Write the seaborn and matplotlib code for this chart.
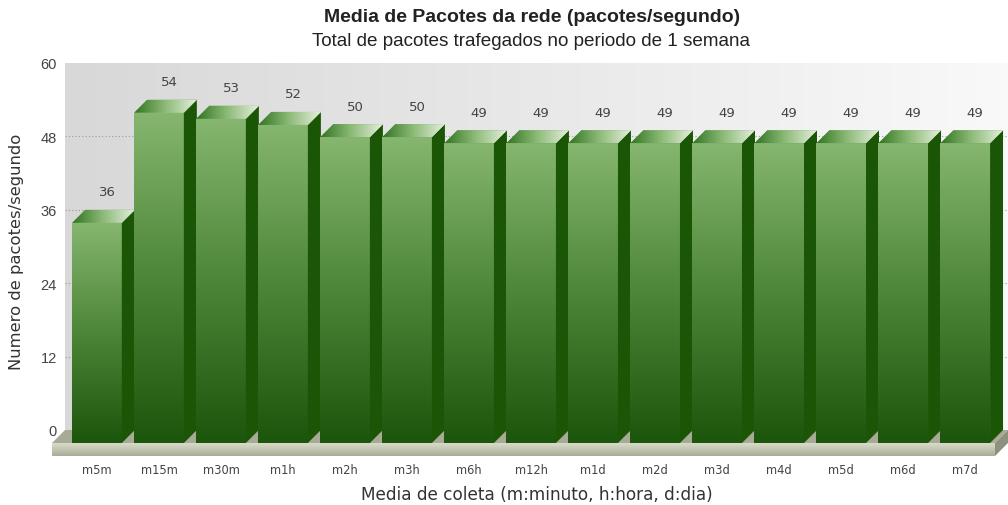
import numpy as np
import matplotlib
matplotlib.use("Agg")
import matplotlib.pyplot as plt
import seaborn as sns
from matplotlib.transforms import ScaledTranslation
from matplotlib.patches import Polygon
from matplotlib.colors import LinearSegmentedColormap

# ---------------- data ----------------
categories = ["m5m", "m15m", "m30m", "m1h", "m2h", "m3h", "m6h", "m12h",
              "m1d", "m2d", "m3d", "m4d", "m5d", "m6d", "m7d"]
values = [36, 54, 53, 52, 50, 50, 49, 49, 49, 49, 49, 49, 49, 49, 49]
yticks = [0, 12, 24, 36, 48, 60]
title = "Media de Pacotes da rede (pacotes/segundo)"
subtitle = "Total de pacotes trafegados no periodo de 1 semana"
xlabel = "Media de coleta (m:minuto, h:hora, d:dia)"
ylabel = "Numero de pacotes/segundo"

sns.set_theme(style="white")
plt.rcParams["font.family"] = ["DejaVu Sans"]

W, H = 1008, 506
fig = plt.figure(figsize=(W / 100, H / 100), dpi=100)
fig.patch.set_facecolor("white")
L, R, T, B = 65, 1008, 64, 431
ax = fig.add_axes([L / W, 1 - B / H, (R - L) / W, (B - T) / H])

sns.barplot(x=categories, y=values, order=categories, ax=ax, width=0.8,
            color="#5a8f45", saturation=1, errorbar=None)
bars = list(ax.patches)

xlim = (-0.726, 14.48)
ax.set_xlim(*xlim)
ax.set_ylim(0, 60)
ppx = (R - L) / (xlim[1] - xlim[0])
ppy = (B - T) / 60.0
D = 13
ddx, ddy = D / ppx, D / ppy
off = ax.transData + ScaledTranslation(-D / 100, -D / 100, fig.dpi_scale_trans)

# background (back wall)
bg_cmap = LinearSegmentedColormap.from_list("bg", ["#d8d8d8", "#f9f9f9"])
bg = ax.imshow(np.linspace(0, 1, 256)[None, :], extent=(xlim[0], xlim[1], 0, 60),
               aspect="auto", cmap=bg_cmap, zorder=-2, interpolation="bilinear")

for s in ax.spines.values():
    s.set_visible(False)
ax.grid(False)
for yv in yticks[1:-1]:
    ax.axhline(yv, linestyle=(0, (1, 2)), color="#9a9a9a", linewidth=0.8, zorder=0.5)

# floor
x0f, x1f = xlim
floor_top = Polygon([(x0f, 0), (x1f, 0), (x1f - ddx, -ddy), (x0f - ddx, -ddy)],
                    closed=True, facecolor="#a7aa95", edgecolor="none",
                    clip_on=False, zorder=1)
ax.add_patch(floor_top)
slab = Polygon([(x0f - ddx, -ddy), (x1f - ddx, -ddy), (x1f - ddx, -2 * ddy), (x0f - ddx, -2 * ddy)],
               closed=True, facecolor="#cfd2be", edgecolor="none", clip_on=False, zorder=1)
ax.add_patch(slab)
slab_cmap = LinearSegmentedColormap.from_list("slab", ["#a9ac97", "#dadccb"])
sim = ax.imshow(np.linspace(0, 1, 64)[:, None], extent=(x0f - ddx, x1f - ddx, -2 * ddy, -ddy),
                aspect="auto", cmap=slab_cmap, origin="lower", zorder=1.1, interpolation="bilinear")
sim.set_clip_box(fig.bbox)
sim.set_clip_path(slab)
slab_side = Polygon([(x1f - ddx, -ddy), (x1f, 0), (x1f, -ddy), (x1f - ddx, -2 * ddy)],
                    closed=True, facecolor="#8e917e", edgecolor="none", clip_on=False, zorder=1)
ax.add_patch(slab_side)

front_cmap = LinearSegmentedColormap.from_list("front", ["#1b560c", "#4c8638", "#86b66f"])
top_cmap = LinearSegmentedColormap.from_list("top", ["#2f7420", "#8dbb78", "#e6efde"])

for i, p in enumerate(bars):
    x0, w, h = p.get_x(), p.get_width(), p.get_height()
    z = 3 + i * 0.1
    p.set_transform(off)
    p.set_clip_on(False)
    p.set_zorder(z)
    p.set_edgecolor("none")
    im = ax.imshow(np.linspace(0, 1, 256)[:, None], extent=(x0, x0 + w, 0, h),
                   aspect="auto", cmap=front_cmap, origin="lower", transform=off,
                   zorder=z + 0.01, interpolation="bilinear")
    im.set_clip_box(fig.bbox)
    im.set_clip_path(p)
    side = Polygon([(x0 + w - ddx, h - ddy), (x0 + w, h), (x0 + w, 0), (x0 + w - ddx, -ddy)],
                   closed=True, facecolor="#1b5506", edgecolor="none", clip_on=False, zorder=z + 0.02)
    ax.add_patch(side)
    top = Polygon([(x0, h), (x0 + w, h), (x0 + w - ddx, h - ddy), (x0 - ddx, h - ddy)],
                  closed=True, facecolor="#7aa866", edgecolor="none", clip_on=False, zorder=z + 0.02)
    ax.add_patch(top)
    tim = ax.imshow(np.linspace(0, 1, 256)[None, :], extent=(x0 - ddx, x0 + w, h - ddy, h),
                    aspect="auto", cmap=top_cmap, zorder=z + 0.03, interpolation="bilinear")
    tim.set_clip_box(fig.bbox)
    tim.set_clip_path(top)
    ax.annotate(str(values[i]), (x0 + w / 2 - 3 / ppx, h), xytext=(0, 18),
                textcoords="offset pixels", ha="center", va="center",
                fontsize=9.5, color="#444444", zorder=10, annotation_clip=False)

ax.set_xlim(*xlim)
ax.set_ylim(0, 60)

ax.set_yticks(yticks)
ax.set_yticklabels([str(v) for v in yticks])
ax.tick_params(axis="y", length=0, pad=6, labelsize=10)
for t in ax.get_yticklabels():
    t.set_color("#444444")
    t.set_family(["Liberation Sans", "DejaVu Sans"])
    t.set_fontsize(10.5)
ax.set_xticks(np.arange(len(categories)) - ddx)
ax.set_xticklabels(categories)
ax.tick_params(axis="x", length=0, pad=24, labelsize=8.3, labelcolor="#444444")
ax.set_xlabel(xlabel, fontsize=12.2, color="#333333", labelpad=6)
ax.set_ylabel("")

fig.text(17 / W, 1 - 252 / H, ylabel, rotation=90, ha="center", va="center",
         fontsize=11.8, color="#333333")
fig.text(532 / W, 1 - 18 / H, title, ha="center", va="center", fontsize=14.0,
         fontweight="bold", color="#222222", family=["Liberation Sans", "DejaVu Sans"])
fig.text(531 / W, 1 - 42 / H, subtitle, ha="center", va="center", fontsize=13.6,
         color="#222222", family=["Liberation Sans", "DejaVu Sans"])

fig.savefig("out.png", dpi=100, facecolor="white")
